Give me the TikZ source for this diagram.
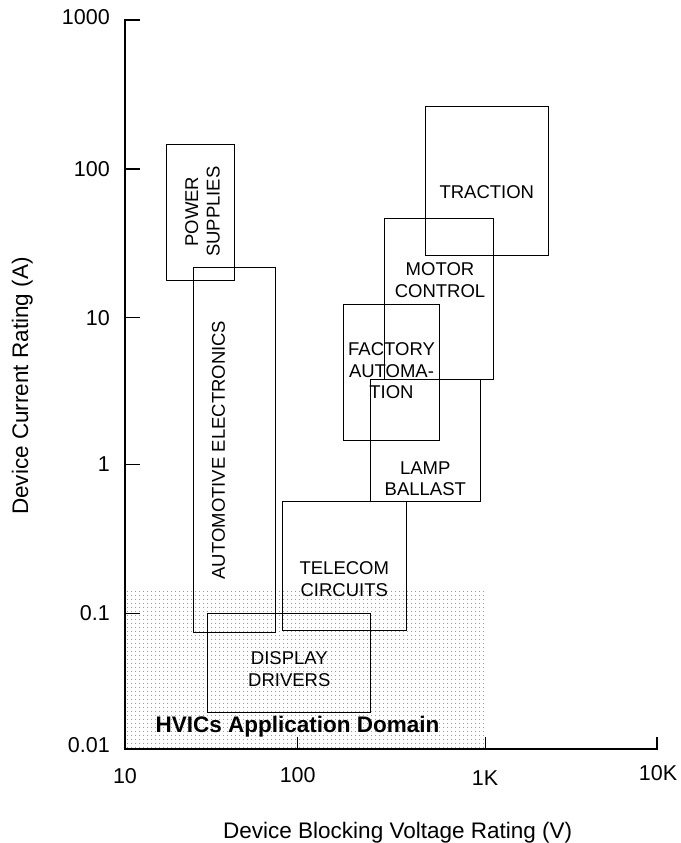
\documentclass[tikz,border=0pt]{standalone}
\usepackage{fontspec}
\setmainfont{Liberation Sans}
\usetikzlibrary{
    patterns.meta,
    positioning
}

\begin{document}
\begin{tikzpicture}[
    x=1pt, y=-1pt,
    axisline/.style  = {line width=1.3pt},
    appbox/.style    = {rectangle, draw, line width=0.9pt, inner sep=0pt},
    applabel/.style  = {font=\fontsize{18.5}{21.5}\selectfont, align=center,
                        inner sep=0pt},
    ticklabel/.style = {font=\fontsize{21.5}{24}\selectfont, inner sep=0pt},
    axistitle/.style = {font=\fontsize{22.5}{26}\selectfont, inner sep=0pt},
    hvicarea/.style  = {pattern={Dots[distance=4pt, radius=0.5pt]},
                        pattern color=black!70},
]
    \useasboundingbox (0,0) rectangle (680,843);

    %Domain
    \fill[hvicarea] (125,588) rectangle (486.7,749);

    %Boxes
    \node[appbox, minimum width=68.3pt,  minimum height=136pt]   (powerbox)      at (200.15,212)   {};
    \node[appbox, minimum width=81.8pt,  minimum height=364.3pt] (automotivebox) at (234.4,449.85) {};
    \node[appbox, minimum width=163.4pt, minimum height=99.4pt]  (displaybox)    at (289,663)      {};
    \node[appbox, minimum width=123.3pt, minimum height=129pt]   (telecombox)    at (344.35,566.2) {};
    \node[appbox, minimum width=95.3pt,  minimum height=136pt]   (factorybox)    at (391.35,372.7) {};
    \node[appbox, minimum width=109.6pt, minimum height=122.7pt] (lampbox)       at (425.5,440.35) {};
    \node[appbox, minimum width=109pt,   minimum height=160.7pt] (motorbox)      at (438.8,298.65) {};
    \node[appbox, minimum width=123pt,   minimum height=148.3pt] (tractionbox)   at (486.8,180.85) {};

    %Labels
    \node[applabel, rotate=90] (powerlabel)      at (202.5,211.7) {POWER\\SUPPLIES};
    \node[applabel, rotate=90] (automotivelabel) at (218.6,450)   {AUTOMOTIVE ELECTRONICS};
    \node[applabel]            (displaylabel)    at (289.3,669.2) {DISPLAY\\DRIVERS};
    \node[applabel]            (telecomlabel)    at (344.3,579.2) {TELECOM\\CIRCUITS};
    \node[applabel]            (factorylabel)    at (391.5,371)   {FACTORY\\AUTOMA-\\TION};
    \node[applabel]            (lamplabel)       at (425.3,478.7) {LAMP\\BALLAST};
    \node[applabel]            (motorlabel)      at (440,280)     {MOTOR\\CONTROL};
    \node[applabel]            (tractionlabel)   at (486.8,191.7) {TRACTION};
    \node[font=\fontsize{22.5}{26}\selectfont\bfseries, inner sep=0pt, anchor=base]
                               (hviclabel)       at (297.5,732)   {HVICs Application Domain};

    %Axes
    \coordinate (origin) at (125,749);
    \coordinate (ytop)   at (125,20);
    \coordinate (xend)   at (657,749);
    \coordinate (y100)   at (125,169);
    \coordinate (y10)    at (125,317.7);
    \coordinate (y1)     at (125,464.3);
    \coordinate (y01)    at (125,613.3);
    \coordinate (x100)   at (297.7,749);
    \coordinate (x1k)    at (485,749);

    \draw[axisline] ([xshift=15pt]ytop) -- (ytop) -- (origin) -- (xend) -- ([yshift=12pt]xend);
    \draw[axisline] (y100) -- ++(15,0);
    \draw[axisline] (y10)  -- ++(15,0);
    \draw[axisline] (y1)   -- ++(15,0);
    \draw[axisline] (y01)  -- ++(15,0);
    \draw[line width=1pt] (x100) -- ++(0,-12);
    \draw[line width=1pt] (x1k)  -- ++(0,-12);

    %Tick labels
    \node[ticklabel, left=15pt of ytop, yshift=2.5pt] (lab1000) {1000};
    \node[ticklabel, left=15pt of y100]   (lab100) {100};
    \node[ticklabel, left=15pt of y10]    (lab10)  {10};
    \node[ticklabel, left=15pt of y1]     (lab1)   {1};
    \node[ticklabel, left=15pt of y01]    (lab01)  {0.1};
    \node[ticklabel, left=15pt of origin, yshift=4pt] (lab001) {0.01};

    \node[ticklabel] (labx10)  at (125,776)   {10};
    \node[ticklabel] (labx100) at (297.7,775) {100};
    \node[ticklabel] (labx1k)  at (485,778)   {1K};
    \node[ticklabel] (labx10k) at (658,773)   {10K};

    %Titles
    \node[axistitle, anchor=base]            (xtitle) at (397.7,838) {Device Blocking Voltage Rating (V)};
    \node[axistitle, anchor=base, rotate=90] (ytitle) at (28,386)    {Device Current Rating (A)};
\end{tikzpicture}
\end{document}
